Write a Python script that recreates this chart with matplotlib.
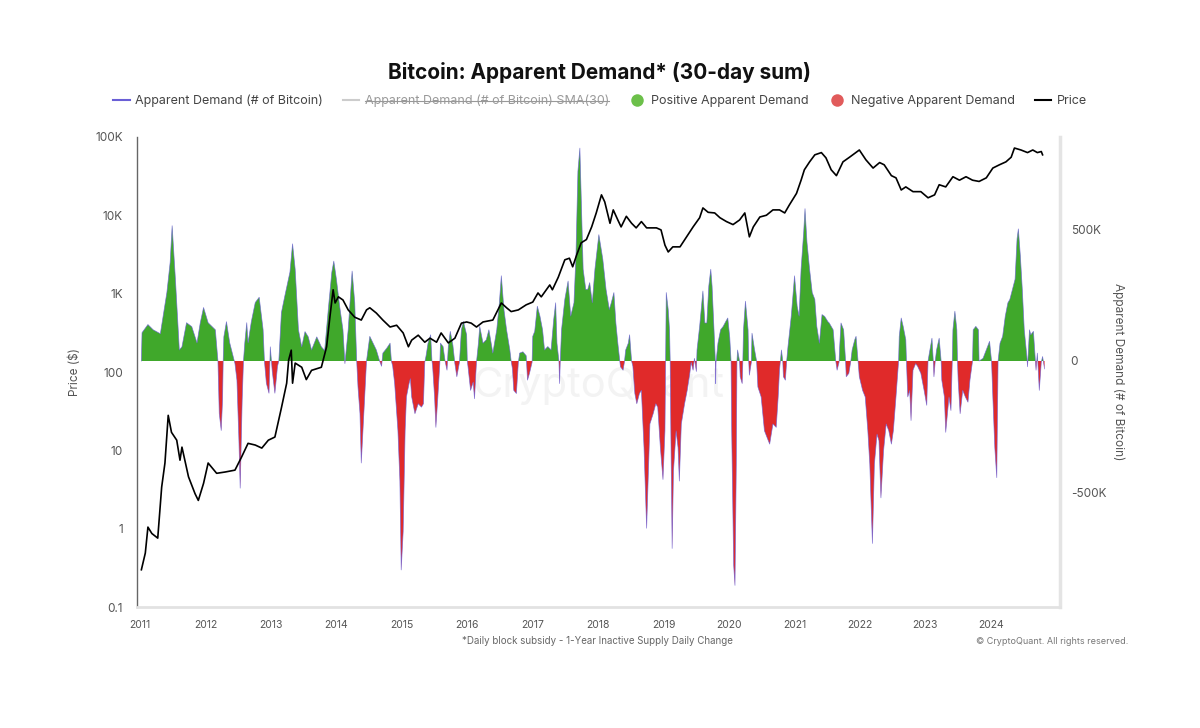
import numpy as np
import matplotlib
matplotlib.use('Agg')
import matplotlib.pyplot as plt
from matplotlib.lines import Line2D
from matplotlib.ticker import NullLocator

# Apparent demand (30-day sum), thousands of BTC
demand_year_a = [2011.02, 2011.03, 2011.12, 2011.20, 2011.31, 2011.41, 2011.46, 2011.49, 2011.54, 2011.60,
                 2011.64, 2011.71, 2011.79, 2011.87, 2011.92, 2011.97, 2012.04, 2012.15, 2012.19, 2012.21,
                 2012.24, 2012.26, 2012.27, 2012.28, 2012.32, 2012.37, 2012.44, 2012.45, 2012.48, 2012.51,
                 2012.53, 2012.56, 2012.58, 2012.60, 2012.63, 2012.65, 2012.70, 2012.76, 2012.82, 2012.88,
                 2012.90, 2012.93, 2012.97, 2012.99, 2013.02, 2013.06, 2013.10, 2013.12, 2013.16, 2013.21,
                 2013.29, 2013.33, 2013.37, 2013.42, 2013.47, 2013.52, 2013.57, 2013.62, 2013.70, 2013.77,
                 2013.82, 2013.88, 2013.93, 2013.96, 2014.00, 2014.05, 2014.10, 2014.13, 2014.18, 2014.24,
                 2014.28, 2014.31, 2014.33, 2014.36, 2014.38, 2014.43, 2014.46]
demand_a = [0, 108, 139, 119, 104, 262, 377, 516, 312, 42,
            54, 146, 131, 69, 146, 204, 146, 119, 0, -200,
            -265, -150, 0, 92, 150, 69, 0, -10, -73, -300,
            -485, -150, 0, 69, 146, 69, 150, 223, 243, 119,
            0, -85, -123, 54, -40, -123, -20, 0, 185, 246,
            339, 447, 350, 119, 54, 112, 92, 42, 92, 54,
            40, 208, 339, 381, 312, 208, 119, -10, 119, 343,
            223, 0, -100, -200, -389, -150, 0]

demand_year_b = [2014.51, 2014.56, 2014.61, 2014.66, 2014.69, 2014.71, 2014.77, 2014.82, 2014.84, 2014.86,
                 2014.89, 2014.94, 2014.97, 2014.99, 2015.02, 2015.05, 2015.07, 2015.11, 2015.13, 2015.15,
                 2015.20, 2015.25, 2015.30, 2015.33, 2015.35, 2015.37, 2015.40, 2015.44, 2015.46, 2015.47,
                 2015.50, 2015.52, 2015.55, 2015.58, 2015.59, 2015.63, 2015.66, 2015.69, 2015.71, 2015.74,
                 2015.78, 2015.81, 2015.84, 2015.88, 2015.91, 2015.94, 2015.99, 2016.00, 2016.01, 2016.05,
                 2016.09, 2016.11, 2016.14, 2016.17, 2016.19, 2016.24, 2016.29, 2016.33, 2016.35, 2016.39,
                 2016.45, 2016.49, 2016.52, 2016.56, 2016.60, 2016.65, 2016.67, 2016.69, 2016.71, 2016.75,
                 2016.78, 2016.80, 2016.85, 2016.90, 2016.92, 2016.95, 2016.99, 2017.00, 2017.03, 2017.07,
                 2017.11, 2017.15, 2017.18, 2017.23, 2017.28, 2017.32, 2017.35, 2017.37, 2017.40, 2017.41,
                 2017.42, 2017.44, 2017.49, 2017.54, 2017.58, 2017.63, 2017.66, 2017.69, 2017.72, 2017.74,
                 2017.77, 2017.81, 2017.84, 2017.87, 2017.91, 2017.95]
demand_b = [94, 68, 42, 0, -20, 30, 49, 68, 0, -20,
            -86, -266, -458, -797, -651, -266, -137, -86, -67, -137,
            -201, -163, -176, -163, -5, 20, 68, 100, 0, -20,
            -137, -253, -137, -10, 68, 55, 0, -35, 55, 113,
            60, -10, -60, -5, 119, 151, 100, 0, -20, -112,
            -80, -144, -5, 68, 132, 68, 81, 119, 90, 30,
            119, 222, 325, 196, 119, 42, 0, -30, -112, -124,
            -5, 30, 35, 20, -73, -47, -5, 94, 113, 209,
            171, 119, 42, 55, 42, 158, 222, 68, 0, -86,
            -5, 119, 235, 305, 171, 222, 402, 723, 812, 633,
            350, 273, 273, 299, 222, 350]

demand_year_c = [2018.01, 2018.07, 2018.12, 2018.17, 2018.20, 2018.24, 2018.27, 2018.30, 2018.33, 2018.34,
                 2018.38, 2018.40, 2018.42, 2018.46, 2018.48, 2018.51, 2018.53, 2018.56, 2018.59, 2018.63,
                 2018.66, 2018.70, 2018.74, 2018.79, 2018.84, 2018.88, 2018.91, 2018.95, 2018.99, 2019.02,
                 2019.03, 2019.04, 2019.07, 2019.09, 2019.10, 2019.11, 2019.13, 2019.15, 2019.19, 2019.22,
                 2019.24, 2019.27, 2019.32, 2019.36, 2019.40, 2019.42, 2019.45, 2019.47, 2019.50, 2019.51,
                 2019.55, 2019.60, 2019.63, 2019.66, 2019.69, 2019.72, 2019.74, 2019.77, 2019.79, 2019.795,
                 2019.80, 2019.83, 2019.87, 2019.91, 2019.95, 2019.98, 2020.01, 2020.03, 2020.04, 2020.07,
                 2020.09, 2020.11, 2020.12, 2020.13, 2020.16, 2020.17, 2020.20, 2020.21, 2020.22, 2020.25,
                 2020.29, 2020.30, 2020.31, 2020.34, 2020.35, 2020.39, 2020.42, 2020.44, 2020.49, 2020.54,
                 2020.58, 2020.62, 2020.67, 2020.72, 2020.75, 2020.77, 2020.80, 2020.82, 2020.83, 2020.86,
                 2020.88, 2020.90, 2020.95, 2021.00, 2021.04, 2021.07, 2021.10, 2021.14, 2021.16, 2021.19,
                 2021.23, 2021.27, 2021.31, 2021.34, 2021.38, 2021.42, 2021.46, 2021.51]
demand_c = [482, 389, 273, 196, 222, 261, 145, 68, 0, -22,
            -35, -5, 42, 68, 100, 0, -20, -124, -163, -124,
            -112, -330, -638, -240, -201, -163, -176, -330, -452, -266,
            0, 261, 196, 119, 0, -266, -715, -420, -266, -330,
            -458, -240, -163, -112, -47, -5, -35, 10, -40, 42,
            132, 267, 145, 145, 286, 350, 286, 119, 0, -86,
            -5, 68, 119, 132, 151, 164, 90, 0, -266, -779,
            -856, -394, 0, 42, 0, -60, -86, 0, 119, 228,
            119, 0, -54, -5, 106, 42, 0, -99, -137, -266,
            -292, -317, -240, -253, -137, -35, 42, 0, -60, -73,
            0, 55, 171, 325, 209, 171, 350, 492, 581, 453,
            350, 261, 235, 132, 68, 177, 170, 150]

demand_year_d = [2021.53, 2021.59, 2021.63, 2021.65, 2021.68, 2021.69, 2021.71, 2021.75, 2021.78, 2021.79,
                 2021.83, 2021.86, 2021.88, 2021.92, 2021.94, 2021.97, 2021.99, 2022.04, 2022.08, 2022.12,
                 2022.15, 2022.19, 2022.22, 2022.26, 2022.29, 2022.32, 2022.36, 2022.40, 2022.44, 2022.48,
                 2022.51, 2022.55, 2022.59, 2022.60, 2022.63, 2022.66, 2022.70, 2022.71, 2022.73, 2022.76,
                 2022.78, 2022.81, 2022.85, 2022.88, 2022.93, 2022.98, 2023.02, 2023.04, 2023.06, 2023.10,
                 2023.12, 2023.13, 2023.15, 2023.17, 2023.21, 2023.24, 2023.25, 2023.29, 2023.31, 2023.36,
                 2023.39, 2023.41, 2023.42, 2023.45, 2023.48, 2023.49, 2023.50, 2023.53, 2023.57, 2023.61,
                 2023.65, 2023.68, 2023.72, 2023.73, 2023.77, 2023.81, 2023.82, 2023.88, 2023.93, 2023.98,
                 2024.01, 2024.03, 2024.06, 2024.09, 2024.11, 2024.14, 2024.18, 2024.22, 2024.26, 2024.29,
                 2024.33, 2024.37, 2024.40, 2024.42, 2024.45, 2024.48, 2024.51, 2024.55, 2024.56, 2024.59,
                 2024.61, 2024.65, 2024.68, 2024.69, 2024.71, 2024.74, 2024.77, 2024.79, 2024.82]
demand_d = [145, 119, 0, -35, -5, 55, 145, 119, 0, -60,
            -47, 0, 42, 81, 94, 0, -60, -112, -137, -266,
            -394, -696, -394, -279, -304, -522, -343, -240, -266, -317,
            -266, -137, 0, 94, 164, 132, 81, 0, -137, -112,
            -227, -35, -10, -20, -47, -112, -169, 0, 30, 87,
            0, -60, 0, 42, 87, 0, -73, -137, -272, -137,
            -189, 0, 119, 190, 119, 0, -73, -201, -112, -137,
            -157, -73, 0, 119, 132, 119, 0, 10, 42, 75,
            0, -137, -330, -445, 0, 68, 94, 171, 222, 235,
            273, 312, 466, 504, 402, 273, 119, 17, -22, 119,
            100, 113, 0, -35, 30, -112, -5, 17, -30]

# BTC price in USD
price_year_a = [2011.02, 2011.08, 2011.12, 2011.18, 2011.27, 2011.33, 2011.38, 2011.43, 2011.48, 2011.56,
                2011.61, 2011.64, 2011.74, 2011.84, 2011.89, 2011.97, 2012.04, 2012.17, 2012.30, 2012.45,
                2012.55, 2012.65, 2012.76, 2012.86, 2012.96, 2013.06, 2013.16, 2013.24, 2013.27, 2013.31,
                2013.33, 2013.37, 2013.47, 2013.54, 2013.62, 2013.77, 2013.85, 2013.90, 2013.95, 2013.98,
                2014.03, 2014.10, 2014.18, 2014.28, 2014.38, 2014.46]
price_a = [0.30, 0.49, 1.05, 0.87, 0.76, 3.4, 6.9, 28, 17, 13.5,
           7.5, 11, 4.6, 2.8, 2.3, 3.8, 6.9, 5.1, 5.3, 5.6,
           8.2, 12.3, 11.7, 10.7, 13.5, 14.8, 35, 72, 142, 190,
           72, 130, 115, 80, 105, 115, 210, 500, 1120, 760,
           910, 830, 620, 500, 460, 620]

price_year_b = [2014.51, 2014.61, 2014.71, 2014.82, 2014.92, 2015.02, 2015.10, 2015.15, 2015.25, 2015.35,
                2015.43, 2015.53, 2015.60, 2015.71, 2015.81, 2015.91, 2015.99, 2016.06, 2016.14, 2016.24,
                2016.39, 2016.52, 2016.60, 2016.67, 2016.78, 2016.90, 2017.00, 2017.08, 2017.13, 2017.26,
                2017.30, 2017.39, 2017.49, 2017.56, 2017.61, 2017.67, 2017.74, 2017.82, 2017.90, 2017.97,
                2018.05]
price_b = [660, 565, 460, 375, 395, 315, 210, 255, 295, 240,
           270, 240, 315, 235, 270, 420, 435, 420, 375, 435,
           460, 760, 660, 590, 620, 720, 780, 1020, 910, 1290,
           1120, 1620, 2700, 2830, 2200, 3100, 4450, 4900, 7100, 10700,
           18200]

price_year_c = [2018.10, 2018.18, 2018.23, 2018.30, 2018.35, 2018.43, 2018.51, 2018.58, 2018.66, 2018.74,
                2018.81, 2018.89, 2018.96, 2019.02, 2019.07, 2019.14, 2019.25, 2019.35, 2019.45, 2019.55,
                2019.60, 2019.68, 2019.78, 2019.86, 2019.96, 2020.06, 2020.16, 2020.24, 2020.31, 2020.37,
                2020.47, 2020.57, 2020.67, 2020.77, 2020.85, 2020.92, 2021.03, 2021.10, 2021.15, 2021.23,
                2021.31, 2021.41, 2021.48, 2021.56]
price_c = [14800, 7900, 11700, 8700, 7100, 9700, 7900, 6900, 8300, 6900,
           6900, 6900, 6500, 4150, 3400, 3950, 3950, 5300, 7100, 9300,
           12400, 10900, 10700, 9300, 8300, 7600, 8700, 10700, 5300, 7100,
           9500, 10000, 11700, 11700, 10700, 13500, 19000, 28000, 38000, 48000,
           59000, 63000, 54000, 38000]

price_year_d = [2021.64, 2021.74, 2021.84, 2021.99, 2022.09, 2022.20, 2022.30, 2022.37, 2022.48, 2022.55,
                2022.63, 2022.70, 2022.81, 2022.93, 2023.04, 2023.14, 2023.21, 2023.31, 2023.42, 2023.52,
                2023.62, 2023.72, 2023.82, 2023.93, 2024.03, 2024.13, 2024.23, 2024.31, 2024.36, 2024.46,
                2024.56, 2024.64, 2024.71, 2024.77, 2024.79]
price_d = [32000, 48000, 55000, 68000, 51000, 40000, 47000, 44000, 32000, 30000,
           21000, 23000, 20000, 20000, 16700, 18200, 24500, 23000, 31000, 28000,
           31000, 28000, 27000, 30000, 40000, 44000, 48000, 55000, 72000, 68000,
           63000, 68000, 63000, 65000, 59000]

years = list(range(2011, 2025))
price_ticks = [0.1, 1, 10, 100, 1000, 10000, 100000]
price_tick_labels = ['0.1', '1', '10', '100', '1K', '10K', '100K']
demand_ticks = [-500, 0, 500]
demand_tick_labels = ['-500K', '0', '500K']

GREEN = '#40a82b'
RED = '#e02a2a'
LINE_BLUE = '#6a5fd6'

plt.rcParams['font.family'] = ['Inter', 'DejaVu Sans']

d_year = np.concatenate([demand_year_a, demand_year_b, demand_year_c, demand_year_d])
d_val = np.concatenate([demand_a, demand_b, demand_c, demand_d]).astype(float)
p_year = np.concatenate([price_year_a, price_year_b, price_year_c, price_year_d])
p_val = np.concatenate([price_a, price_b, price_c, price_d])

fig = plt.figure(figsize=(12, 7.28), dpi=100)
ax_d = fig.add_axes([0.114, 0.166, 0.769, 0.646])
ax_p = ax_d.twinx()

# demand on the right axis (drawn underneath)
ax_d.text(0.5, 0.47, 'CryptoQuant', transform=ax_d.transAxes, ha='center', va='center',
          fontsize=30, color='#f3f3f3', zorder=0)
ax_d.fill_between(d_year, d_val, 0, where=d_val >= 0, interpolate=True, color=GREEN, lw=0, zorder=1)
ax_d.fill_between(d_year, d_val, 0, where=d_val <= 0, interpolate=True, color=RED, lw=0, zorder=1)
ax_d.plot(d_year, d_val, color=LINE_BLUE, lw=0.5, alpha=0.8, zorder=2)
ax_d.set_ylim(-939, 855)
ax_d.set_xlim(2010.95, 2025.05)
ax_d.yaxis.tick_right()
ax_d.yaxis.set_label_position('right')
ax_d.set_yticks(demand_ticks)
ax_d.set_yticklabels(demand_tick_labels)
ax_d.set_xticks(years)
ax_d.set_xticklabels([str(y) for y in years])
ax_d.tick_params(axis='y', length=0, labelsize=8.5, colors='#555555', pad=8)
ax_d.tick_params(axis='x', length=0, labelsize=7.5, colors='#555555', pad=9)
ax_d.set_ylabel('Apparent Demand (# of Bitcoin)', rotation=270, va='bottom',
                fontsize=8.5, color='#555555', labelpad=4)
for s in ax_d.spines.values():
    s.set_visible(False)

# price on the left log axis (drawn on top)
ax_p.plot(p_year, p_val, color='black', lw=1.2, zorder=3)
ax_p.set_yscale('log')
ax_p.set_ylim(0.1, 100000)
ax_p.yaxis.tick_left()
ax_p.yaxis.set_label_position('left')
ax_p.set_yticks(price_ticks)
ax_p.set_yticklabels(price_tick_labels)
ax_p.yaxis.set_minor_locator(NullLocator())
ax_p.tick_params(axis='y', which='both', length=0, labelsize=8.5, colors='#555555', pad=10)
ax_p.set_ylabel('Price ($)', fontsize=8.5, color='#555555', labelpad=10)
ax_p.spines['top'].set_visible(False)
ax_p.spines['left'].set_color('#666666')
ax_p.spines['left'].set_linewidth(1.0)
ax_p.spines['bottom'].set_color('#e2e2e2')
ax_p.spines['bottom'].set_linewidth(2)
ax_p.spines['right'].set_color('#e4e4e4')
ax_p.spines['right'].set_linewidth(2.5)

fig.text(0.5, 0.9, 'Bitcoin: Apparent Demand* (30-day sum)', ha='center', va='center',
         fontsize=15, fontweight='bold', color='#111111')

handles = [
    Line2D([], [], color=LINE_BLUE, lw=1.5),
    Line2D([], [], color='#cccccc', lw=1.5),
    Line2D([], [], ls='', marker='o', markersize=9, markerfacecolor='#6cc04a', markeredgecolor='none'),
    Line2D([], [], ls='', marker='o', markersize=9, markerfacecolor='#e15b5b', markeredgecolor='none'),
    Line2D([], [], color='black', lw=1.5),
]
labels = ['Apparent Demand (# of Bitcoin)', 'Apparent Demand (# of Bitcoin) SMA(30)',
          'Positive Apparent Demand', 'Negative Apparent Demand', 'Price']
leg = fig.legend(handles, labels, loc='center', bbox_to_anchor=(0.5, 0.861), ncol=5, frameon=False,
                 fontsize=9, handlelength=1.3, columnspacing=1.6, handletextpad=0.45)
for i, t in enumerate(leg.get_texts()):
    t.set_color('#999999' if i == 1 else '#444444')

fig.text(0.4975, 0.1195, '*Daily block subsidy - 1-Year Inactive Supply Daily Change',
         ha='center', va='center', fontsize=7, color='#666666')
fig.text(0.94, 0.1195, '\u00a9 CryptoQuant. All rights reserved.',
         ha='right', va='center', fontsize=6.5, color='#777777')

# hidden series: strike through its legend label
fig.canvas.draw()
bb = leg.get_texts()[1].get_window_extent()
inv = fig.transFigure.inverted()
(x0, y0), (x1, y1) = inv.transform([(bb.x0, bb.y0), (bb.x1, bb.y1)])
fig.add_artist(Line2D([x0, x1], [(y0 + y1) / 2] * 2, color='#999999', lw=0.8,
                      transform=fig.transFigure))

fig.savefig('out.png', dpi=100)
